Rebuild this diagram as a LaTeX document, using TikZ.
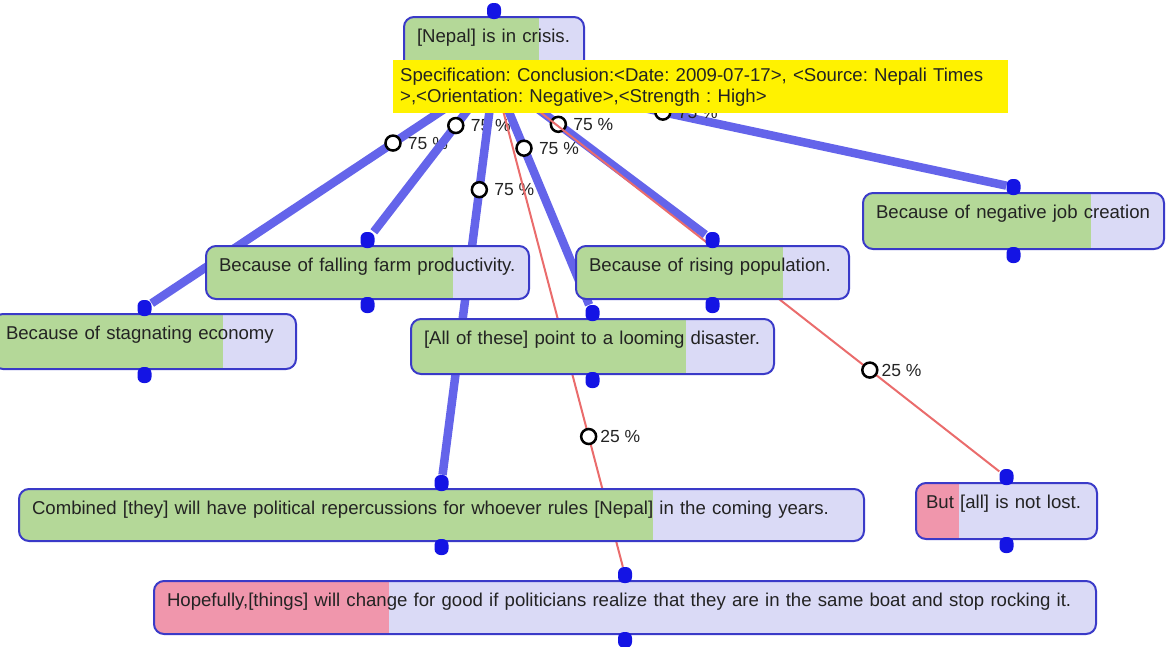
\documentclass[tikz,border=0pt]{standalone}
\usepackage{fontspec}
\setmainfont{Liberation Sans}
\usetikzlibrary{positioning,backgrounds}
\definecolor{rimblue}{RGB}{58,58,200}
\definecolor{knobblue}{RGB}{20,20,228}
\definecolor{edgeblue}{RGB}{100,100,234}
\definecolor{attackred}{RGB}{234,108,108}
\definecolor{lavender}{RGB}{218,218,246}
\definecolor{meadow}{RGB}{180,216,152}
\definecolor{blush}{RGB}{240,150,172}
\definecolor{ink}{RGB}{35,35,35}
\tikzset{
  stmt/.style={draw=rimblue, line width=2pt, rounded corners=10pt, fill=lavender, anchor=north west,
    inner xsep=13pt, inner ysep=11pt, text height=14pt, align=left, text=ink, font=\fontsize{18.6}{22}\selectfont},
  bar/.style 2 args={path picture={\fill[#1, sharp corners] (path picture bounding box.south west) rectangle ([xshift=#2]path picture bounding box.north west);}},
  knob/.style={fill=knobblue, rounded corners=6pt, minimum width=14pt, minimum height=16pt, inner sep=0pt},
  support/.style={draw=edgeblue, line width=8.5pt},
  attack/.style={draw=attackred, line width=2pt},
  ring/.style={circle, draw=black, fill=white, line width=2.5pt, minimum size=15pt, inner sep=0pt,
    label={[font=\fontsize{17.5}{20}\selectfont, inner xsep=2pt, text=ink]right:#1}},
  spec/.style={fill=yellow, anchor=north west, text width=601pt, align=left, inner xsep=7pt, inner ysep=4pt,
    minimum height=53pt, text=ink, font=\fontsize{18.6}{21}\selectfont}
}
\begin{document}
\frenchspacing
\begin{tikzpicture}[x=1pt,y=-1pt]
  \useasboundingbox (0,0) rectangle (1167,646);
  \clip (0,0) rectangle (1167,646);
  \node[stmt, bar={meadow}{135pt}, text width=154pt, text depth=17pt] (nepal) at (403,16) {[Nepal] is in crisis.};
  \node[stmt, bar={meadow}{230pt}, text width=277pt, text depth=19pt] (stag) at (-8,313) {Because of stagnating economy};
  \node[stmt, bar={meadow}{247pt}, text width=297pt, text depth=17pt] (falling) at (205,245) {Because of falling farm productivity.};
  \node[stmt, bar={meadow}{207pt}, text width=247pt, text depth=17pt] (rising) at (575,245) {Because of rising population.};
  \node[stmt, bar={meadow}{228pt}, text width=275pt, text depth=20pt] (negative) at (862,192) {Because of negative job creation};
  \node[stmt, bar={meadow}{275pt}, text width=337pt, text depth=19pt] (all) at (410,318) {[All of these] point to a looming disaster.};
  \node[stmt, bar={meadow}{634pt}, text width=819pt, text depth=16pt] (combined) at (18,488) {Combined [they] will have political repercussions for whoever rules [Nepal] in the coming years.};
  \node[stmt, bar={blush}{43pt}, text width=161pt, inner xsep=10pt, text depth=20pt] (but) at (915,482) {But [all] is not lost.};
  \node[stmt, bar={blush}{235pt}, text width=916pt, text depth=17pt] (hopefully) at (153,580) {Hopefully,[things] will change for good if politicians realize that they are in the same boat and stop rocking it.};
  \foreach \n in {nepal,stag,falling,rising,negative,all,combined,but,hopefully} {
    \node[knob] (\n-in) at ([yshift=5pt]\n.north) {};
    \node[knob] (\n-out) at ([yshift=-5pt]\n.south) {};
  }
  \begin{scope}[on background layer]
    \draw[support] (nepal-out) -- node[pos=.28, ring=75 \%] (p1) {} (stag-in);
    \draw[support] (nepal-out) -- node[pos=.28, ring=75 \%] (p2) {} (falling-in);
    \draw[support] (nepal-out) -- node[pos=.27, ring=75 \%] (p3) {} (combined-in);
    \draw[support] (nepal-out) -- node[pos=.29, ring=75 \%] (p4) {} (all-in);
    \draw[support] (nepal-out) -- node[pos=.28, ring=75 \%] (p5) {} (rising-in);
    \draw[support] ([xshift=-60pt]nepal-out) -- node[pos=.32, ring=75 \%] (p6) {} (negative-in);
    \draw[attack] (nepal-out) -- node[pos=.73, ring=25 \%] (p7) {} (hopefully-in);
    \draw[attack] (nepal-out) -- node[pos=.74, ring=25 \%] (p8) {} (but-in);
  \end{scope}
  \node[spec] (note) at (393,60) {Specification: Conclusion:<Date: 2009-07-17>, <Source: Nepali Times\\>,<Orientation: Negative>,<Strength : High>};
\end{tikzpicture}
\end{document}
